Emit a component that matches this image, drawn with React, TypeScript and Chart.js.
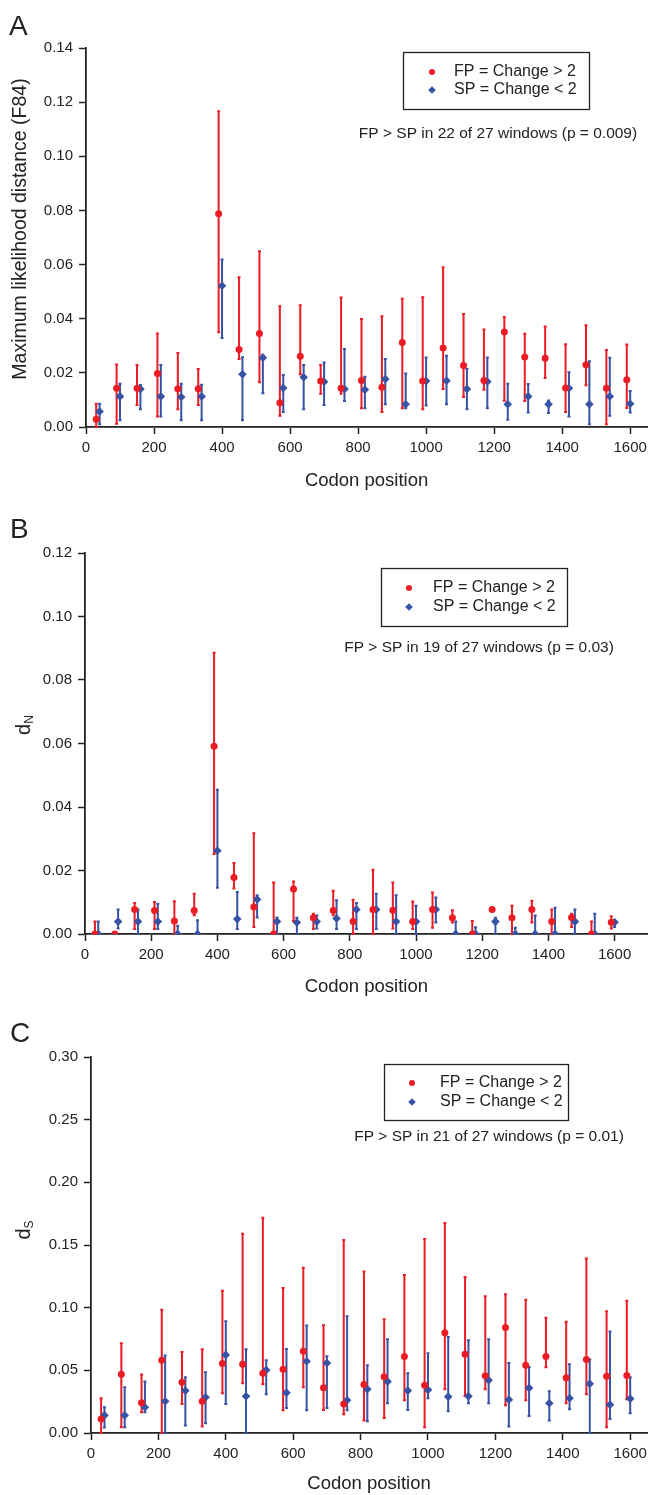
import React, { useEffect, useRef } from 'react';
import { Chart, registerables } from 'chart.js';

Chart.register(...registerables);

const FONT = "'Liberation Sans', Arial, Helvetica, sans-serif";
const RED = '#ec1c24';
const BLUE = '#3753a5';
const INK = '#222222';

// Window positions (codon)
const FP_X = [30, 90, 150, 210, 270, 330, 390, 450, 510, 570, 630, 690, 750, 810, 870, 930, 990, 1050, 1110, 1170, 1230, 1290, 1350, 1410, 1470, 1530, 1590];
const SP_X = [40, 100, 160, 220, 280, 340, 400, 460, 520, 580, 640, 700, 760, 820, 880, 940, 1000, 1060, 1120, 1180, 1240, 1300, 1360, 1420, 1480, 1540, 1600];
const X_TICK_STEP = 200;

// Panel A: Maximum likelihood distance (F84)
const FP_A = [0.0029, 0.0143, 0.0143, 0.0198, 0.0141, 0.0141, 0.0788, 0.0286, 0.0345, 0.0090, 0.0261, 0.0170, 0.0143, 0.0172, 0.0147, 0.0312, 0.0170, 0.0292, 0.0227, 0.0172, 0.0351, 0.0259, 0.0254, 0.0144, 0.0230, 0.0143, 0.0175];
const FP_A_HI = [0.0086, 0.0231, 0.0229, 0.0345, 0.0273, 0.0214, 0.1166, 0.0553, 0.0649, 0.0446, 0.0450, 0.0229, 0.0478, 0.0399, 0.0409, 0.0474, 0.0479, 0.0590, 0.0417, 0.0360, 0.0406, 0.0344, 0.0371, 0.0306, 0.0376, 0.0284, 0.0305];
const FP_A_LO = [0.0000, 0.0012, 0.0081, 0.0039, 0.0066, 0.0081, 0.0350, 0.0251, 0.0165, 0.0042, 0.0195, 0.0123, 0.0123, 0.0069, 0.0055, 0.0069, 0.0066, 0.0140, 0.0111, 0.0138, 0.0097, 0.0096, 0.0181, 0.0055, 0.0154, 0.0010, 0.0070];
const SP_A = [0.0057, 0.0113, 0.0140, 0.0113, 0.0111, 0.0113, 0.0522, 0.0195, 0.0256, 0.0144, 0.0184, 0.0167, 0.0140, 0.0138, 0.0177, 0.0084, 0.0170, 0.0171, 0.0140, 0.0168, 0.0084, 0.0113, 0.0084, 0.0143, 0.0084, 0.0113, 0.0086];
const SP_A_HI = [0.0086, 0.0160, 0.0155, 0.0229, 0.0160, 0.0156, 0.0619, 0.0258, 0.0267, 0.0192, 0.0229, 0.0238, 0.0288, 0.0186, 0.0251, 0.0198, 0.0257, 0.0263, 0.0214, 0.0257, 0.0160, 0.0159, 0.0098, 0.0202, 0.0243, 0.0256, 0.0133];
const SP_A_LO = [0.0010, 0.0025, 0.0066, 0.0039, 0.0025, 0.0025, 0.0329, 0.0025, 0.0125, 0.0055, 0.0066, 0.0081, 0.0096, 0.0069, 0.0084, 0.0069, 0.0079, 0.0084, 0.0066, 0.0069, 0.0027, 0.0054, 0.0052, 0.0039, 0.0010, 0.0042, 0.0054];

// Panel B: dN
const FP_B = [0, 0, 0.0077, 0.0074, 0.0041, 0.0074, 0.0591, 0.0178, 0.0085, 0, 0.0142, 0.0051, 0.0074, 0.0039, 0.0077, 0.0075, 0.0039, 0.0077, 0.0051, 0, 0.0077, 0.0051, 0.0077, 0.0039, 0.0052, 0, 0.0037];
const FP_B_HI = [0.0039, 0, 0.0098, 0.0101, 0.0103, 0.0127, 0.0886, 0.0224, 0.0317, 0.0162, 0.0165, 0.0064, 0.0136, 0.0108, 0.0202, 0.0162, 0.0102, 0.0131, 0.0075, 0.0041, 0.0081, 0.0089, 0.0105, 0.0077, 0.0064, 0.0039, 0.0056];
const FP_B_LO = [0, 0, 0.0016, 0.0016, 0, 0.0059, 0.0252, 0.0143, 0.0022, 0, 0.0041, 0.0016, 0.0059, 0, 0, 0.0017, 0.0016, 0.0020, 0.0036, 0, 0.0075, 0, 0.0036, 0, 0.0022, 0, 0.0017];
const SP_B = [0, 0.0039, 0.0039, 0.0039, 0, 0, 0.0262, 0.0047, 0.0109, 0.0039, 0.0036, 0.0039, 0.0049, 0.0077, 0.0077, 0.0039, 0.0039, 0.0077, 0, 0, 0.0039, 0, 0, 0, 0.0039, 0, 0.0037];
const SP_B_HI = [0.0039, 0.0077, 0.0077, 0.0095, 0.0026, 0.0043, 0.0454, 0.0132, 0.0122, 0.0052, 0.0051, 0.0058, 0.0106, 0.0098, 0.0127, 0.0122, 0.0089, 0.0115, 0.0039, 0.0021, 0.0051, 0.0020, 0.0058, 0.0083, 0.0077, 0.0064, 0.0043];
const SP_B_LO = [0, 0.0017, 0, 0.0016, 0, 0, 0.0146, 0.0016, 0.0052, 0, 0, 0.0017, 0.0016, 0.0016, 0.0016, 0, 0, 0.0036, 0, 0, 0, 0, 0, 0, 0, 0, 0.0022];

// Panel C: dS
const FP_C = [0.0112, 0.0469, 0.0242, 0.0581, 0.0405, 0.0253, 0.0554, 0.0549, 0.0477, 0.0509, 0.0653, 0.0362, 0.0232, 0.0386, 0.0448, 0.0610, 0.0381, 0.0799, 0.0629, 0.0456, 0.0842, 0.0541, 0.0610, 0.0440, 0.0586, 0.0453, 0.0458];
const FP_C_HI = [0.0277, 0.0717, 0.0466, 0.0983, 0.0647, 0.0669, 0.1135, 0.1590, 0.1718, 0.1156, 0.1319, 0.0860, 0.1540, 0.1289, 0.0908, 0.1260, 0.1548, 0.1676, 0.1244, 0.1092, 0.1108, 0.1063, 0.0919, 0.0887, 0.1393, 0.0972, 0.1055];
const FP_C_LO = [0, 0.0045, 0.0165, 0, 0.0232, 0.0051, 0.0317, 0.0397, 0.0389, 0.0181, 0.0365, 0.0184, 0.0149, 0.0099, 0.0120, 0.0261, 0.0045, 0.0349, 0.0296, 0.0349, 0.0221, 0.0261, 0.0525, 0.0237, 0.0309, 0.0045, 0.0269];
const SP_C = [0.0141, 0.0141, 0.0205, 0.0253, 0.0338, 0.0285, 0.0623, 0.0293, 0.0503, 0.0322, 0.0573, 0.0559, 0.0261, 0.0349, 0.0410, 0.0338, 0.0344, 0.0290, 0.0293, 0.0421, 0.0266, 0.0360, 0.0237, 0.0277, 0.0392, 0.0226, 0.0274];
const SP_C_HI = [0.0205, 0.0365, 0.0410, 0.0618, 0.0445, 0.0485, 0.0892, 0.0669, 0.0581, 0.0671, 0.0858, 0.0613, 0.0932, 0.0541, 0.0749, 0.0477, 0.0637, 0.0765, 0.0741, 0.0749, 0.0559, 0.0527, 0.0333, 0.0549, 0.0586, 0.0810, 0.0445];
const SP_C_LO = [0.0043, 0.0045, 0.0165, 0, 0.0059, 0.0077, 0.0232, 0, 0.0309, 0.0200, 0.0181, 0.0200, 0.0181, 0.0093, 0.0237, 0.0184, 0.0277, 0.0173, 0.0237, 0.0237, 0.0051, 0.0136, 0.0099, 0.0189, 0, 0.0112, 0.0157];

const LEGEND_FP = 'FP = Change > 2';
const LEGEND_SP = 'SP = Change < 2';
const X_TITLE = 'Codon position';

type Panel = {
  letter: string;
  top: number;
  height: number;
  left: number;
  right: number;
  areaTop: number;
  areaBottom: number;
  xMax: number;
  yMax: number;
  yStep: number;
  yTitle: string;
  ySub: string;
  yTitleX: number;
  yTitleY: number;
  fp: number[]; fpLo: number[]; fpHi: number[];
  sp: number[]; spLo: number[]; spHi: number[];
  legend: { x: number; y: number; w: number; h: number; mx: number; tx: number; r1: number; r2: number };
  note: { text: string; x: number; y: number };
  letterPos: { x: number; y: number };
  xTitlePad: number;
};

const PANELS: Panel[] = [
  {
    letter: 'A', top: 0, height: 495, left: 86, right: 651, areaTop: 48, areaBottom: 427,
    xMax: 1650, yMax: 0.14, yStep: 0.02,
    yTitle: 'Maximum likelihood distance (F84)', ySub: '', yTitleX: 21, yTitleY: 229,
    fp: FP_A, fpLo: FP_A_LO, fpHi: FP_A_HI, sp: SP_A, spLo: SP_A_LO, spHi: SP_A_HI,
    legend: { x: 403, y: 52, w: 186, h: 57, mx: 432, tx: 454, r1: 72, r2: 90 },
    note: { text: 'FP > SP in 22 of 27 windows (p = 0.009)', x: 498, y: 134 },
    letterPos: { x: 9, y: 35 }, xTitlePad: 3,
  },
  {
    letter: 'B', top: 495, height: 505, left: 85, right: 651, areaTop: 553, areaBottom: 934,
    xMax: 1700, yMax: 0.12, yStep: 0.02,
    yTitle: 'd', ySub: 'N', yTitleX: 24, yTitleY: 725,
    fp: FP_B, fpLo: FP_B_LO, fpHi: FP_B_HI, sp: SP_B, spLo: SP_B_LO, spHi: SP_B_HI,
    legend: { x: 381, y: 568, w: 186, h: 58, mx: 409, tx: 433, r1: 588, r2: 607 },
    note: { text: 'FP > SP in 19 of 27 windows (p = 0.03)', x: 479, y: 648 },
    letterPos: { x: 10, y: 538 }, xTitlePad: 2,
  },
  {
    letter: 'C', top: 1000, height: 495, left: 91, right: 651, areaTop: 1057, areaBottom: 1433,
    xMax: 1650, yMax: 0.30, yStep: 0.05,
    yTitle: 'd', ySub: 'S', yTitleX: 24, yTitleY: 1230,
    fp: FP_C, fpLo: FP_C_LO, fpHi: FP_C_HI, sp: SP_C, spLo: SP_C_LO, spHi: SP_C_HI,
    legend: { x: 384, y: 1064, w: 184, h: 56, mx: 412, tx: 440, r1: 1083, r2: 1102 },
    note: { text: 'FP > SP in 21 of 27 windows (p = 0.01)', x: 489, y: 1137 },
    letterPos: { x: 10, y: 1042 }, xTitlePad: 0,
  },
];

const overlayPlugin = {
  id: 'overlay',
  beforeDatasetsDraw(chart: any, _args: any, opts: any) {
    const p: Panel = opts.panel;
    if (!p) return;
    const ctx = chart.ctx;
    const xs = chart.scales.x;
    const ys = chart.scales.y;
    const drawBars = (xv: number[], lo: number[], hi: number[], color: string) => {
      ctx.save();
      ctx.strokeStyle = color;
      ctx.lineWidth = 2;
      for (let i = 0; i < xv.length; i++) {
        const x = xs.getPixelForValue(xv[i]);
        const y1 = ys.getPixelForValue(lo[i]);
        const y2 = ys.getPixelForValue(hi[i]);
        if (Math.abs(y1 - y2) < 0.5) continue;
        ctx.beginPath();
        ctx.moveTo(x, y1);
        ctx.lineTo(x, y2);
        ctx.moveTo(x - 1.5, y1);
        ctx.lineTo(x + 1.5, y1);
        ctx.moveTo(x - 1.5, y2);
        ctx.lineTo(x + 1.5, y2);
        ctx.stroke();
      }
      ctx.restore();
    };
    drawBars(FP_X, p.fpLo, p.fpHi, RED);
    drawBars(SP_X, p.spLo, p.spHi, BLUE);
  },
  afterDraw(chart: any, _args: any, opts: any) {
    const p: Panel = opts.panel;
    if (!p) return;
    const ctx = chart.ctx;
    const oy = p.top;
    ctx.save();
    // panel letter
    ctx.fillStyle = INK;
    ctx.font = `28px ${FONT}`;
    ctx.textAlign = 'left';
    ctx.textBaseline = 'alphabetic';
    ctx.fillText(p.letter, p.letterPos.x, p.letterPos.y - oy);

    // y title
    ctx.save();
    ctx.translate(p.yTitleX, p.yTitleY - oy);
    ctx.rotate(-Math.PI / 2);
    ctx.textBaseline = 'middle';
    ctx.fillStyle = INK;
    if (p.ySub) {
      ctx.font = `20px ${FONT}`;
      const wMain = ctx.measureText(p.yTitle).width;
      ctx.font = `12px ${FONT}`;
      const wSub = ctx.measureText(p.ySub).width;
      const total = wMain + wSub;
      ctx.textAlign = 'left';
      ctx.font = `20px ${FONT}`;
      ctx.fillText(p.yTitle, -total / 2, 0);
      ctx.font = `12px ${FONT}`;
      ctx.fillText(p.ySub, -total / 2 + wMain, 6);
    } else {
      ctx.font = `19.5px ${FONT}`;
      ctx.textAlign = 'center';
      ctx.fillText(p.yTitle, 0, 0);
    }
    ctx.restore();

    // legend box
    const L = p.legend;
    ctx.strokeStyle = INK;
    ctx.lineWidth = 1.3;
    ctx.strokeRect(L.x + 0.5, L.y - oy + 0.5, L.w, L.h);
    ctx.fillStyle = RED;
    ctx.beginPath();
    ctx.arc(L.mx, L.r1 - oy, 3, 0, Math.PI * 2);
    ctx.fill();
    ctx.fillStyle = BLUE;
    ctx.beginPath();
    const r = 3.8;
    ctx.moveTo(L.mx, L.r2 - oy - r);
    ctx.lineTo(L.mx + r, L.r2 - oy);
    ctx.lineTo(L.mx, L.r2 - oy + r);
    ctx.lineTo(L.mx - r, L.r2 - oy);
    ctx.closePath();
    ctx.fill();
    ctx.fillStyle = INK;
    ctx.font = `16px ${FONT}`;
    ctx.textAlign = 'left';
    ctx.textBaseline = 'middle';
    ctx.fillText(LEGEND_FP, L.tx, L.r1 - oy);
    ctx.fillText(LEGEND_SP, L.tx, L.r2 - oy);

    // annotation
    ctx.font = `15.5px ${FONT}`;
    ctx.textAlign = 'center';
    ctx.fillText(p.note.text, p.note.x, p.note.y - oy);
    ctx.restore();
  },
};

function PanelChart({ panel }: { panel: Panel }) {
  const ref = useRef<HTMLCanvasElement | null>(null);
  useEffect(() => {
    if (!ref.current) return;
    const p = panel;
    const chart = new Chart(ref.current, {
      type: 'scatter',
      data: {
        datasets: [
          {
            label: LEGEND_FP,
            data: FP_X.map((x, i) => ({ x, y: p.fp[i] })),
            pointStyle: 'circle',
            pointRadius: 3.5,
            pointBackgroundColor: RED,
            pointBorderWidth: 0,
            borderColor: RED,
          },
          {
            label: LEGEND_SP,
            data: SP_X.map((x, i) => ({ x, y: p.sp[i] })),
            pointStyle: 'rectRot',
            pointRadius: 4.3,
            pointBackgroundColor: BLUE,
            pointBorderWidth: 0,
            borderColor: BLUE,
          },
        ],
      },
      options: {
        responsive: false,
        animation: false,
        events: [],
        layout: { padding: { top: p.areaTop - p.top, right: 652 - p.right, bottom: 0, left: 0 } },
        plugins: {
          legend: { display: false },
          tooltip: { enabled: false },
          overlay: { panel: p },
        } as any,
        scales: {
          x: {
            type: 'linear',
            min: 0,
            max: p.xMax,
            ticks: {
              stepSize: X_TICK_STEP,
              includeBounds: false,
              autoSkip: false,
              maxRotation: 0,
              padding: 5,
              color: INK,
              font: { family: FONT, size: 15 },
              callback: (v: any) => String(Math.round(Number(v))),
            },
            grid: { drawOnChartArea: false, drawTicks: true, tickLength: 7, tickColor: INK, tickWidth: 1.5 },
            border: { display: true, color: INK, width: 1.8 },
            title: {
              display: true,
              text: X_TITLE,
              color: INK,
              font: { family: FONT, size: 18.5 },
              padding: { top: 0, bottom: p.xTitlePad },
            },
            afterFit: (s: any) => { s.height = p.top + p.height - p.areaBottom; },
          },
          y: {
            type: 'linear',
            min: 0,
            max: p.yMax,
            ticks: {
              stepSize: p.yStep,
              padding: 6,
              color: INK,
              font: { family: FONT, size: 15 },
              callback: (v: any) => Number(v).toFixed(2),
            },
            grid: { drawOnChartArea: false, drawTicks: true, tickLength: 7, tickColor: INK, tickWidth: 1.5 },
            border: { display: true, color: INK, width: 1.8 },
            title: { display: false },
            afterFit: (s: any) => { s.width = p.left; },
          },
        },
      } as any,
      plugins: [overlayPlugin],
    });
    return () => chart.destroy();
  }, [panel]);
  return (
    <canvas
      ref={ref}
      width={652}
      height={panel.height}
      style={{ position: 'absolute', left: 0, top: panel.top, width: 652, height: panel.height }}
    />
  );
}

export default function App() {
  return (
    <div style={{ position: 'absolute', left: 0, top: 0, width: 652, height: 1495, overflow: 'hidden', background: '#ffffff' }}>
      {PANELS.map((p) => (
        <PanelChart key={p.letter} panel={p} />
      ))}
    </div>
  );
}
